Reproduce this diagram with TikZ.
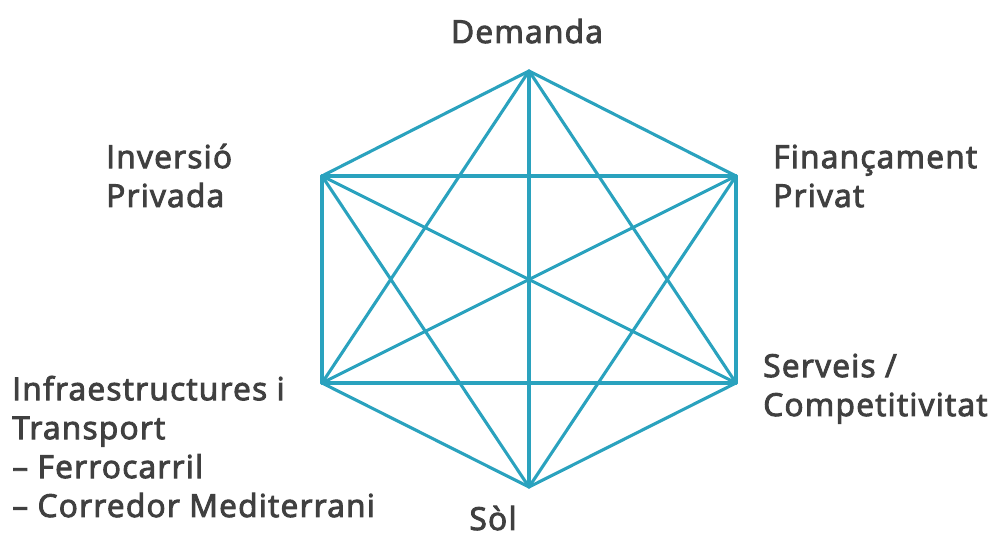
\documentclass[tikz,border=0pt]{standalone}
\usepackage{fontspec}
\setmainfont{Open Sans}[BoldFont={Open Sans}, BoldFeatures={FakeBold=3}, LetterSpace=4]
\definecolor{hexblue}{RGB}{42,162,190}
\definecolor{labelgray}{RGB}{64,64,64}
\begin{document}
\begin{tikzpicture}[x=0.025cm, y=-0.025cm,
        edge/.style={hexblue, line width=2.2pt, line cap=round},
        tag/.style={labelgray, font=\fontsize{22.5}{27.7}\selectfont\bfseries, inner sep=0pt, align=left}]
        \useasboundingbox (0, 0) rectangle (994, 536);

        % corners of the hexagon
        \coordinate (dem) at (529, 71);
        \coordinate (fin) at (736, 176);
        \coordinate (ser) at (736, 383);
        \coordinate (sol) at (529, 487);
        \coordinate (inf) at (322, 383);
        \coordinate (inv) at (322, 176);

        \foreach \a/\b in {dem/fin, dem/ser, dem/sol, dem/inf, dem/inv,
                fin/ser, fin/sol, fin/inf, fin/inv,
                ser/sol, ser/inf, ser/inv,
                sol/inf, sol/inv,
                inf/inv}
                \draw[edge] (\a) -- (\b);

        % labels, anchored at the baseline of their last line
        \node[tag, anchor=base] (tdem) at (527, 43) {Demanda};
        \node[tag, anchor=base west] (tinv) at (106, 207) {Inversió\\Privada};
        \node[tag, anchor=base west] (tfin) at (773, 207) {Finançament\\Privat};
        \node[tag, anchor=base west] (tser) at (763, 416) {Serveis /\\Competitivitat};
        \node[tag, anchor=base west] (tinf) at (12, 517) {Infraestructures i\\Transport\\\textendash{} Ferrocarril\\\textendash{} Corredor Mediterrani};
        \node[tag, anchor=base] (tsol) at (493, 530) {Sòl};
\end{tikzpicture}
\end{document}
